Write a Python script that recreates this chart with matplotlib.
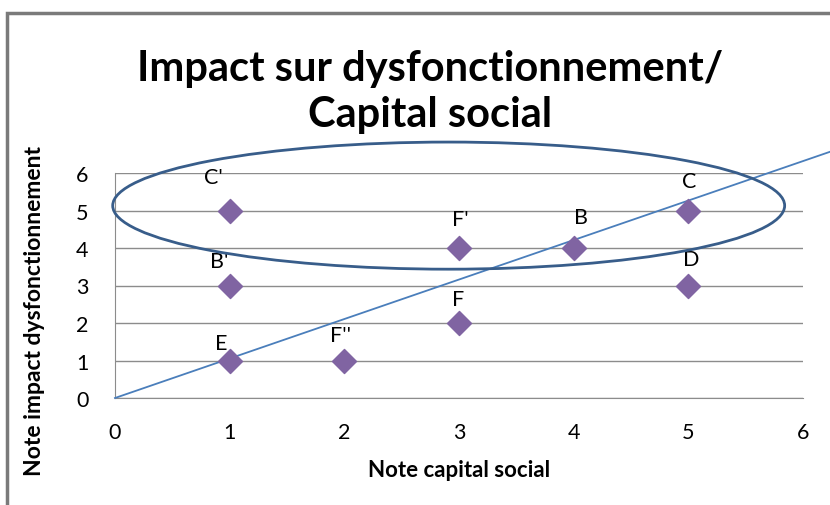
import numpy as np
import matplotlib
matplotlib.use('Agg')
from matplotlib import pyplot as plt
from matplotlib.patches import Ellipse, Rectangle

# scores per actor: capital social (x) vs impact on dysfonctionnement (y)
labels = ["C'", "B'", "E", "F''", "F", "F'", "B", "C", "D"]
capital_social = [1, 1, 1, 2, 3, 3, 4, 5, 5]
impact_dysf = [5, 3, 1, 1, 2, 4, 4, 5, 3]
# label offsets in pixels from each marker
label_dx = [-16, -10, -8, -4, -1, 1, 7, 1, 3]
label_dy = [34, 24, 17, 25, 24, 29, 31, 29, 26]

# trend line through the origin
trend_x = [0, 6.23]
trend_y = [0, 6.56]

# highlighted group
ell_center = (2.91, 5.13)
ell_w, ell_h = 5.86, 3.39

plt.rcParams['font.family'] = ['Lato', 'DejaVu Sans']

fig = plt.figure(figsize=(8.3, 5.06), dpi=100)
ax = fig.add_axes([115 / 830, 1 - 399 / 506, 688 / 830, 225 / 506])

ax.set_xlim(0, 6)
ax.set_ylim(0, 6)
ax.set_xticks(range(7))
ax.set_yticks(range(7))
ax.yaxis.grid(True, color='#8c8c8c', lw=1)
ax.set_axisbelow(True)
for s in ['top', 'right']:
    ax.spines[s].set_visible(False)
for s in ['left', 'bottom']:
    ax.spines[s].set_color('#8c8c8c')
ax.tick_params(length=0, labelsize=15.5)
ax.tick_params(axis='x', pad=17)
ax.tick_params(axis='y', pad=19)

ax.plot(trend_x, trend_y, color='#4a7ebb', lw=1.3, clip_on=False, zorder=3)
ax.scatter(capital_social, impact_dysf, marker='D', s=150, color='#8064a2',
           zorder=4, clip_on=False)
for lab, x, y, dx, dy in zip(labels, capital_social, impact_dysf, label_dx, label_dy):
    ax.annotate(lab, (x, y), xytext=(dx, dy), textcoords='offset pixels',
                ha='center', va='center', fontsize=15.5)

ax.add_patch(Ellipse(ell_center, ell_w, ell_h, fill=False, ec='#385d8a',
                     lw=2, clip_on=False, zorder=5))

ax.set_xlabel('Note capital social', fontsize=16, fontweight='bold')
ax.xaxis.set_label_coords(0.5, -61 / 225)
ax.set_ylabel('Note impact dysfonctionnement', fontsize=16.5, fontweight='bold')
ax.yaxis.set_label_coords(-70 / 688, 0.393)

fig.text(430 / 830, 1 - 92 / 506, 'Impact sur dysfonctionnement/\nCapital social',
         ha='center', va='center', fontsize=30, fontweight='bold',
         linespacing=1.28)

# chart area frame
fig.patches.append(Rectangle((7 / 830, -0.1), 1.2, 1.1 - 14 / 506,
                             transform=fig.transFigure, fill=False,
                             ec='#7a7a7a', lw=2.5))

fig.savefig('out.png', dpi=100)
